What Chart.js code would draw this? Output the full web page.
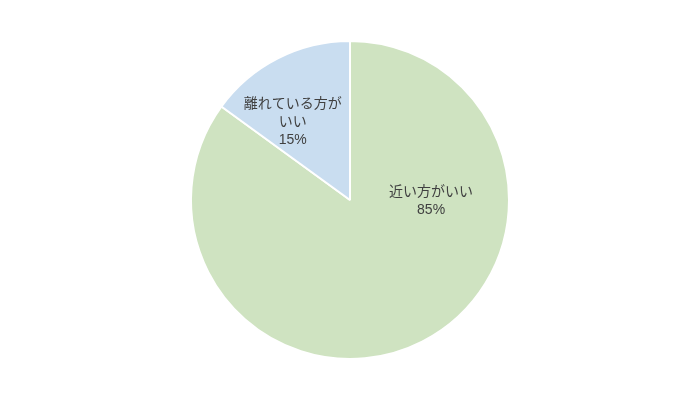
<!DOCTYPE html>
<html>
<head>
<meta charset="utf-8">
<script src="https://cdn.jsdelivr.net/npm/chart.js@4"></script>
<style>
  html, body { margin: 0; padding: 0; background: #fff; }
  #wrap { width: 700px; height: 400px; }
</style>
</head>
<body>
<div id="wrap"><canvas id="pieChart"></canvas></div>
<script>
// ---- data ----
const categories = ["近い方がいい", "離れている方がいい"];
const shares = [85, 15];
const sliceColors = ["#cfe3c1", "#c9ddf0"];
// label lines as drawn in the picture (long one wraps)
const labelLines = [["近い方がいい"], ["離れている方が", "いい"]];
// where each label sits: angle (deg, 0 = right) and fraction of radius
const labelAngle = [1, 233.5];
const labelRadius = [0.51, 0.606];

const FONT = "'Liberation Sans', 'Noto Sans CJK JP', sans-serif";

// draws the category + percent inside each slice
const sliceLabels = {
  id: "sliceLabels",
  afterDatasetsDraw(chart) {
    const ctx = chart.ctx;
    const meta = chart.getDatasetMeta(0);
    ctx.save();
    ctx.font = "14px " + FONT;
    ctx.fillStyle = "#404040";
    ctx.textAlign = "center";
    ctx.textBaseline = "middle";
    meta.data.forEach((arc, i) => {
      const a = labelAngle[i] * Math.PI / 180;
      const r = arc.outerRadius * labelRadius[i];
      const cx = arc.x + Math.cos(a) * r;
      const cy = arc.y + Math.sin(a) * r;
      const lines = labelLines[i].concat([shares[i] + "%"]);
      const lh = 18;
      const top = cy - (lines.length - 1) * lh / 2;
      lines.forEach((t, j) => ctx.fillText(t, cx, top + j * lh));
    });
    ctx.restore();
  }
};

const ctx = document.getElementById("pieChart").getContext("2d");

window.pieChart = new Chart(ctx, {
  type: "pie",
  data: {
    labels: categories,
    datasets: [
      {
        data: shares,
        backgroundColor: sliceColors,
        borderColor: "#ffffff",
        borderWidth: 2
      }
    ]
  },
  options: {
    responsive: true,
    maintainAspectRatio: false,
    animation: false,
    events: [],
    layout: { padding: { top: 40, bottom: 40, left: 0, right: 0 } },
    plugins: {
      legend: { display: false },
      tooltip: { enabled: false }
    }
  },
  plugins: [sliceLabels]
});
</script>
</body>
</html>
